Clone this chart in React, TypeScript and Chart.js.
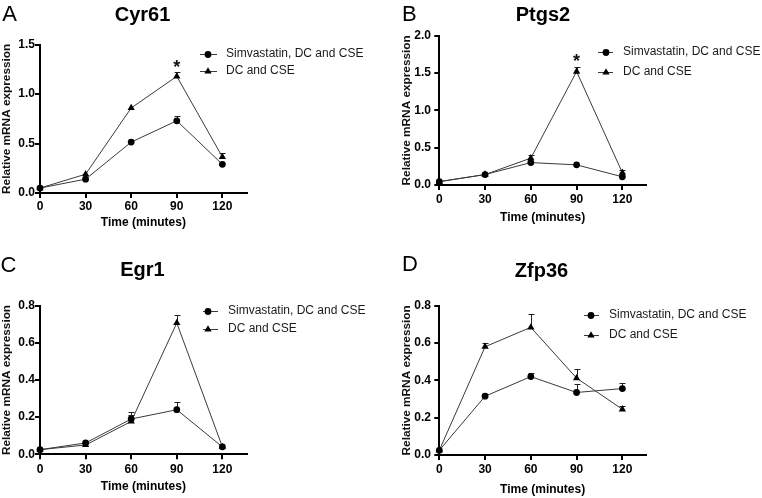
import { useEffect, useRef } from "react";
import { Chart, registerables } from "chart.js";

Chart.register(...registerables);

const FONT = "'Liberation Sans', Arial, Helvetica, sans-serif";

// ---------- data ----------
const timeMinutes = [0, 30, 60, 90, 120];
const xTickValues = [0, 30, 60, 90, 120];
const seriesLabels = ["Simvastatin, DC and CSE", "DC and CSE"];
const xAxisTitle = "Time (minutes)";
const yAxisTitle = "Relative mRNA expression";

const cyr61Simva = [0.05, 0.14, 0.515, 0.73, 0.29];
const cyr61SimvaErr = [0, 0, 0, 0.05, 0];
const cyr61Dc = [0.05, 0.19, 0.86, 1.18, 0.365];
const cyr61DcErr = [0, 0, 0, 0.04, 0.035];
const cyr61Sig = [false, false, false, true, false];
const cyr61YTicks = [0, 0.5, 1.0, 1.5];

const ptgs2Simva = [0.045, 0.14, 0.3, 0.27, 0.11];
const ptgs2SimvaErr = [0, 0, 0, 0, 0];
const ptgs2Dc = [0.045, 0.14, 0.36, 1.52, 0.165];
const ptgs2DcErr = [0, 0, 0.045, 0.065, 0.035];
const ptgs2Sig = [false, false, false, true, false];
const ptgs2YTicks = [0, 0.5, 1.0, 1.5, 2.0];

const egr1Simva = [0.025, 0.061, 0.19, 0.24, 0.04];
const egr1SimvaErr = [0, 0, 0.02, 0.04, 0];
const egr1Dc = [0.025, 0.05, 0.177, 0.707, 0.04];
const egr1DcErr = [0, 0, 0.05, 0.043, 0];
const egr1Sig = [false, false, false, false, false];
const egr1YTicks = [0, 0.2, 0.4, 0.6, 0.8];

const zfp36Simva = [0.025, 0.315, 0.42, 0.335, 0.356];
const zfp36SimvaErr = [0, 0.012, 0.022, 0.048, 0.032];
const zfp36Dc = [0.025, 0.58, 0.684, 0.412, 0.245];
const zfp36DcErr = [0, 0.022, 0.072, 0.05, 0.02];
const zfp36Sig = [false, false, false, false, false];
const zfp36YTicks = [0, 0.2, 0.4, 0.6, 0.8];

// ---------- layout (panel-local pixel geometry) ----------
const PW = 381;
const PH = 249;
const XH = 45;

const panels = [
  {
    letter: "A", title: "Cyr61",
    simva: cyr61Simva, simvaErr: cyr61SimvaErr, dc: cyr61Dc, dcErr: cyr61DcErr, sig: cyr61Sig, yTicks: cyr61YTicks,
    ox: 0, oy: 0,
    area: { left: 40, right: 246.7, top: 44.7, bottom: 193 },
    xMax: 136, yTitleX: 7.2, xTickOff: 13.7, xTitleOff: 30, yLabelRight: 35,
    legend: { x0: 200, x1: 217, mx: 208, tx: 226, rows: [54, 70.7] },
    titleC: [142.5, 14], letterPos: [2.3, 14.2],
  },
  {
    letter: "B", title: "Ptgs2",
    simva: ptgs2Simva, simvaErr: ptgs2SimvaErr, dc: ptgs2Dc, dcErr: ptgs2DcErr, sig: ptgs2Sig, yTicks: ptgs2YTicks,
    ox: 381, oy: 0,
    area: { left: 58.3, right: 265, top: 35.7, bottom: 185 },
    xMax: 135.5, yTitleX: 26, xTickOff: 15, xTitleOff: 33, yLabelRight: 50,
    legend: { x0: 217, x1: 232, mx: 225, tx: 242, rows: [51.7, 71.7] },
    titleC: [162, 14], letterPos: [21, 13.3],
  },
  {
    letter: "C", title: "Egr1",
    simva: egr1Simva, simvaErr: egr1SimvaErr, dc: egr1Dc, dcErr: egr1DcErr, sig: egr1Sig, yTicks: egr1YTicks,
    ox: 0, oy: 249,
    area: { left: 40, right: 246.7, top: 56.7, bottom: 205.3 },
    xMax: 136, yTitleX: 7, xTickOff: 15.5, xTitleOff: 32.5, yLabelRight: 35,
    legend: { x0: 203, x1: 218, mx: 208, tx: 228, rows: [61.7, 80] },
    titleC: [142.5, 19.5], letterPos: [0.6, 15.3],
  },
  {
    letter: "D", title: "Zfp36",
    simva: zfp36Simva, simvaErr: zfp36SimvaErr, dc: zfp36Dc, dcErr: zfp36DcErr, sig: zfp36Sig, yTicks: zfp36YTicks,
    ox: 381, oy: 249,
    area: { left: 58.3, right: 265, top: 56.7, bottom: 206 },
    xMax: 135.5, yTitleX: 26, xTickOff: 14.7, xTitleOff: 34.7, yLabelRight: 50,
    legend: { x0: 203, x1: 218, mx: 210, tx: 228, rows: [65.7, 86] },
    titleC: [160.5, 20.5], letterPos: [21, 15],
  },
];

const LINE_COLOR = "#3a3a3a";
const CIRCLE_R = 3.4;
const TRI_R = 4.2;

function drawMarker(ctx: CanvasRenderingContext2D, style: string, x: number, y: number) {
  ctx.beginPath();
  if (style === "circle") {
    ctx.arc(x, y, CIRCLE_R, 0, Math.PI * 2);
  } else {
    const r = TRI_R;
    ctx.moveTo(x, y - r);
    ctx.lineTo(x + 0.866 * r, y + 0.5 * r);
    ctx.lineTo(x - 0.866 * r, y + 0.5 * r);
    ctx.closePath();
  }
  ctx.fillStyle = "#000";
  ctx.fill();
}

const errorBarPlugin = {
  id: "errorBars",
  beforeDatasetsDraw(chart: any) {
    const { ctx } = chart;
    const xs = chart.scales.x;
    const ys = chart.scales.y;
    ctx.save();
    ctx.strokeStyle = "#222";
    ctx.lineWidth = 1;
    chart.data.datasets.forEach((ds: any) => {
      const errs: number[] = ds.errors;
      if (!errs) return;
      ds.data.forEach((p: any, i: number) => {
        const e = errs[i];
        if (!e) return;
        const px = Math.round(xs.getPixelForValue(p.x)) + 0.5;
        const py0 = ys.getPixelForValue(p.y);
        const py1 = Math.round(ys.getPixelForValue(p.y + e)) + 0.5;
        ctx.beginPath();
        ctx.moveTo(px, py0);
        ctx.lineTo(px, py1);
        ctx.moveTo(px - 3, py1);
        ctx.lineTo(px + 3, py1);
        ctx.stroke();
      });
    });
    ctx.restore();
  },
};

const decorPlugin = {
  id: "panelDecor",
  afterDraw(chart: any, _args: any, opts: any) {
    const { ctx } = chart;
    const lg = opts.legend;
    ctx.save();
    const styles = ["circle", "triangle"];
    opts.labels.forEach((label: string, i: number) => {
      const y = lg.rows[i];
      ctx.strokeStyle = LINE_COLOR;
      ctx.lineWidth = 1;
      ctx.beginPath();
      ctx.moveTo(lg.x0, Math.round(y) + 0.5);
      ctx.lineTo(lg.x1, Math.round(y) + 0.5);
      ctx.stroke();
      drawMarker(ctx, styles[i], lg.mx, Math.round(y) + 0.5);
      ctx.fillStyle = "#1a1a1a";
      ctx.font = `12px ${FONT}`;
      ctx.textAlign = "left";
      ctx.textBaseline = "middle";
      ctx.fillText(label, lg.tx, y);
    });
    const xs = chart.scales.x;
    const ys = chart.scales.y;
    const ds = chart.data.datasets[1];
    opts.sig.forEach((s: boolean, i: number) => {
      if (!s) return;
      const p = ds.data[i];
      const top = ys.getPixelForValue(p.y + (ds.errors[i] || 0));
      const cy = top - 9.6;
      ctx.fillStyle = "#111";
      ctx.font = `bold 18px ${FONT}`;
      ctx.textAlign = "center";
      ctx.textBaseline = "alphabetic";
      ctx.fillText("*", xs.getPixelForValue(p.x), cy + 9.9);
    });
    ctx.restore();
  },
};

function buildConfig(cfg: any): any {
  const a = cfg.area;
  const tickLen = 5;
  const mk = (vals: number[]) => timeMinutes.map((t, i) => ({ x: t, y: vals[i] }));
  const dsBase = {
    borderColor: LINE_COLOR,
    borderWidth: 1,
    pointBackgroundColor: "#000",
    pointBorderColor: "#000",
    pointBorderWidth: 0,
    tension: 0,
    clip: false,
  };
  return {
    type: "line",
    data: {
      datasets: [
        { ...dsBase, label: seriesLabels[0], data: mk(cfg.simva), errors: cfg.simvaErr, pointStyle: "circle", pointRadius: CIRCLE_R },
        { ...dsBase, label: seriesLabels[1], data: mk(cfg.dc), errors: cfg.dcErr, pointStyle: "triangle", pointRadius: TRI_R },
      ],
    },
    plugins: [errorBarPlugin, decorPlugin],
    options: {
      responsive: false,
      animation: false,
      devicePixelRatio: 1,
      events: [],
      layout: {
        padding: { left: 0, top: a.top, right: PW - a.right, bottom: PH - a.bottom - XH },
      },
      plugins: {
        legend: { display: false },
        tooltip: { enabled: false },
        title: { display: false },
        panelDecor: { legend: cfg.legend, labels: seriesLabels, sig: cfg.sig },
      },
      scales: {
        x: {
          type: "linear",
          min: 0,
          max: cfg.xMax,
          afterBuildTicks: (s: any) => {
            s.ticks = xTickValues.map((v) => ({ value: v }));
          },
          afterFit: (s: any) => {
            s.height = XH;
          },
          ticks: {
            color: "#000",
            font: { family: FONT, size: 12, weight: "bold" },
            padding: cfg.xTickOff - tickLen - 7.2,
            maxRotation: 0,
            autoSkip: false,
            callback: (v: number) => String(v),
          },
          grid: { drawOnChartArea: false, drawTicks: true, tickLength: tickLen, color: "#000", lineWidth: 2 },
          border: { display: true, color: "#000", width: 2 },
          title: {
            display: true,
            text: xAxisTitle,
            color: "#000",
            font: { family: FONT, size: 12, weight: "bold" },
            padding: { top: 0, bottom: XH - cfg.xTitleOff - 7.2 },
          },
        },
        y: {
          type: "linear",
          min: 0,
          max: cfg.yTicks[cfg.yTicks.length - 1],
          afterBuildTicks: (s: any) => {
            s.ticks = cfg.yTicks.map((v: number) => ({ value: v }));
          },
          afterFit: (s: any) => {
            s.width = a.left;
          },
          ticks: {
            color: "#000",
            font: { family: FONT, size: 12, weight: "bold" },
            padding: a.left - tickLen - cfg.yLabelRight,
            autoSkip: false,
            callback: (v: number) => Number(v).toFixed(1),
          },
          grid: { drawOnChartArea: false, drawTicks: true, tickLength: tickLen, color: "#000", lineWidth: 2 },
          border: { display: true, color: "#000", width: 2 },
          title: {
            display: true,
            text: yAxisTitle,
            color: "#111",
            font: { family: FONT, size: 11.8, weight: "bold" },
            padding: { top: cfg.yTitleX - 7.1, bottom: 0 },
          },
        },
      },
    },
  };
}

function Panel({ cfg }: { cfg: any }) {
  const ref = useRef<HTMLCanvasElement>(null);
  useEffect(() => {
    const chart = new Chart(ref.current as HTMLCanvasElement, buildConfig(cfg));
    return () => chart.destroy();
  }, [cfg]);
  const titleFs = 20;
  const letterFs = 22;
  return (
    <>
      <canvas
        ref={ref}
        width={PW}
        height={PH}
        style={{ position: "absolute", left: cfg.ox, top: cfg.oy, width: PW, height: PH }}
      />
      <div
        style={{
          position: "absolute",
          left: cfg.ox + cfg.titleC[0] - 100,
          top: cfg.oy + cfg.titleC[1] - 0.49 * titleFs,
          width: 200,
          textAlign: "center",
          fontFamily: FONT,
          fontWeight: "bold",
          fontSize: titleFs,
          lineHeight: `${titleFs}px`,
          color: "#000",
          whiteSpace: "nowrap",
        }}
      >
        {cfg.title}
      </div>
      <div
        style={{
          position: "absolute",
          left: cfg.ox + cfg.letterPos[0],
          top: cfg.oy + cfg.letterPos[1] - 0.49 * letterFs,
          fontFamily: FONT,
          fontWeight: "normal",
          fontSize: letterFs,
          lineHeight: `${letterFs}px`,
          color: "#000",
        }}
      >
        {cfg.letter}
      </div>
    </>
  );
}

export default function App() {
  return (
    <div
      style={{
        position: "absolute",
        left: 0,
        top: 0,
        width: 762,
        height: 498,
        background: "#fff",
        overflow: "hidden",
      }}
    >
      {panels.map((p) => (
        <Panel key={p.letter} cfg={p} />
      ))}
    </div>
  );
}
